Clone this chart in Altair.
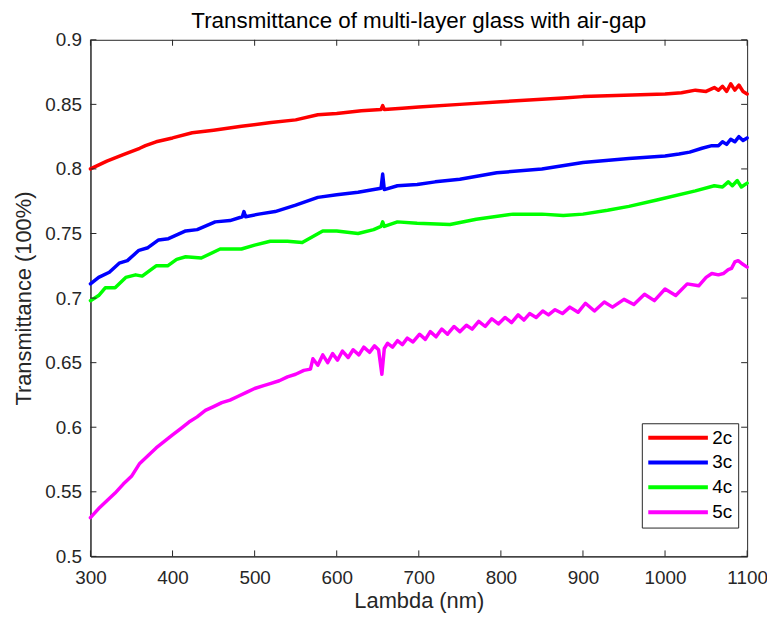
import altair as alt
import pandas as pd

# ---- data ----
series_names = ["2c", "3c", "4c", "5c"]
series_colors = ["#ff0000", "#0000ff", "#00ff00", "#ff00ff"]

wl_2c = [300, 320, 340, 360, 367, 380, 400, 424, 450, 484, 520, 550, 577, 600, 630, 654, 656, 658,
         680, 700, 750, 800, 850, 876, 900, 950, 1000, 1020, 1037, 1050, 1060, 1065, 1070, 1075,
         1080, 1085, 1090, 1095, 1100]
t_2c = [0.800, 0.806, 0.811, 0.816, 0.818, 0.821, 0.824, 0.828, 0.830, 0.833, 0.836, 0.838, 0.842,
        0.843, 0.845, 0.846, 0.849, 0.846, 0.847, 0.848, 0.850, 0.852, 0.854, 0.855, 0.856, 0.857,
        0.858, 0.859, 0.861, 0.860, 0.863, 0.861, 0.864, 0.860, 0.866, 0.861, 0.865, 0.860, 0.858]

wl_3c = [300, 310, 323, 335, 345, 359, 370, 383, 395, 416, 430, 452, 470, 485, 487, 489, 505, 525,
         550, 577, 600, 626, 654, 656, 658, 674, 698, 720, 750, 795, 850, 900, 956, 1000, 1017,
         1030, 1045, 1057, 1065, 1070, 1075, 1080, 1085, 1090, 1095, 1100]
t_3c = [0.711, 0.716, 0.720, 0.727, 0.729, 0.737, 0.739, 0.745, 0.746, 0.752, 0.753, 0.759, 0.760,
        0.763, 0.767, 0.763, 0.765, 0.767, 0.772, 0.778, 0.780, 0.782, 0.785, 0.796, 0.784, 0.787,
        0.788, 0.790, 0.792, 0.797, 0.800, 0.805, 0.808, 0.810, 0.8115, 0.813, 0.816, 0.818, 0.818,
        0.821, 0.819, 0.823, 0.821, 0.825, 0.822, 0.824]

wl_4c = [300, 310, 318, 330, 343, 355, 363, 380, 394, 405, 416, 435, 458, 484, 500, 519, 540, 558,
         583, 600, 626, 645, 654, 656, 658, 674, 698, 738, 770, 815, 850, 876, 900, 930, 956, 990,
         1037, 1060, 1070, 1077, 1082, 1088, 1093, 1100]
t_4c = [0.698, 0.702, 0.708, 0.708, 0.716, 0.718, 0.717, 0.725, 0.725, 0.730, 0.732, 0.731, 0.738,
        0.738, 0.741, 0.744, 0.744, 0.743, 0.752, 0.752, 0.750, 0.753, 0.7555, 0.759, 0.7555, 0.759,
        0.758, 0.757, 0.761, 0.765, 0.765, 0.764, 0.765, 0.768, 0.771, 0.776, 0.783, 0.787, 0.786,
        0.790, 0.787, 0.791, 0.786, 0.789]

wl_5c = [300, 310, 320, 330, 340, 350, 360, 370, 380, 390, 400, 410, 420, 430, 440, 450, 460, 470,
         480, 490, 500, 510, 520, 530, 540, 550, 560, 568, 571, 577, 583, 589, 595, 601, 607, 614,
         620, 627, 633, 640, 646, 651, 655, 658, 662, 668, 674, 680, 686, 693, 701, 708, 714, 721,
         728, 735, 743, 750, 758, 765, 773, 781, 789, 797, 805, 813, 821, 828, 835, 843, 851, 858,
         866, 875, 884, 894, 903, 914, 926, 936, 950, 962, 975, 987, 1000, 1013, 1027, 1041, 1050,
         1057, 1065, 1071, 1077, 1081, 1085, 1089, 1093, 1100]
t_5c = [0.530, 0.537, 0.543, 0.549, 0.556, 0.562, 0.572, 0.578, 0.584, 0.589, 0.594, 0.599, 0.604,
        0.608, 0.613, 0.616, 0.619, 0.621, 0.624, 0.627, 0.630, 0.632, 0.634, 0.636, 0.639, 0.641,
        0.644, 0.645, 0.653, 0.648, 0.656, 0.650, 0.657, 0.652, 0.659, 0.654, 0.660, 0.656, 0.662,
        0.658, 0.663, 0.660, 0.641, 0.661, 0.665, 0.662, 0.667, 0.664, 0.669, 0.666, 0.672, 0.668,
        0.674, 0.670, 0.676, 0.672, 0.678, 0.674, 0.679, 0.676, 0.682, 0.678, 0.684, 0.680, 0.685,
        0.681, 0.687, 0.683, 0.688, 0.685, 0.690, 0.687, 0.691, 0.688, 0.693, 0.689, 0.696, 0.690,
        0.697, 0.693, 0.699, 0.695, 0.703, 0.698, 0.707, 0.702, 0.711, 0.7095, 0.716, 0.719, 0.718,
        0.719, 0.722, 0.723, 0.728, 0.729, 0.727, 0.724]

x_ticks = [300, 400, 500, 600, 700, 800, 900, 1000, 1100]
y_ticks = [0.5, 0.55, 0.6, 0.65, 0.7, 0.75, 0.8, 0.85, 0.9]

title_text = "Transmittance of multi-layer glass with air-gap"
x_title = "Lambda (nm)"
y_title = "Transmittance (100%)"

# ---- build tables ----
rows = []
for name, wl, tv in [("2c", wl_2c, t_2c), ("3c", wl_3c, t_3c), ("4c", wl_4c, t_4c), ("5c", wl_5c, t_5c)]:
    for a, b in zip(wl, tv):
        rows.append({"lambda": a, "T": b, "series": name})
df = pd.DataFrame(rows)
xt = pd.DataFrame({"lambda": x_ticks})
yt = pd.DataFrame({"T": y_ticks})

W, H = 661, 520
FONT = "Liberation Sans"
AX = "#262626"

xscale = alt.Scale(domain=[300, 1100], nice=False, zero=False)
yscale = alt.Scale(domain=[0.5, 0.9], nice=False, zero=False)

common_axis = dict(ticks=False, tickSize=0, grid=False, labelFlush=False,
                   domainColor=AX, domainWidth=1, labelColor=AX, titleColor=AX,
                   labelFont=FONT, titleFont=FONT, labelFontSize=19, titleFontSize=22,
                   titleFontWeight="normal")
x_axis = alt.Axis(values=x_ticks, format="d", title=x_title, labelPadding=12, titlePadding=3,
                  **common_axis)
y_axis = alt.Axis(values=y_ticks, format=".2~f", title=y_title, labelPadding=9, titlePadding=9,
                  **common_axis)

lines = alt.Chart(df).mark_line(strokeWidth=3.5, strokeJoin="round", strokeCap="round").encode(
    x=alt.X("lambda:Q", scale=xscale, axis=x_axis, title=x_title),
    y=alt.Y("T:Q", scale=yscale, axis=y_axis, title=y_title),
    color=alt.Color("series:N",
                    scale=alt.Scale(domain=series_names, range=series_colors),
                    legend=alt.Legend(title=None, orient="none", legendX=555, legendY=386,
                                      symbolType="M-1.6,0H10.4", symbolSize=100, symbolStrokeWidth=4,
                                      labelOffset=47, labelFontSize=19, labelFont=FONT,
                                      labelColor="#000000", rowPadding=5, padding=5,
                                      columns=1, columnPadding=0,
                                      strokeColor=AX, fillColor="#ffffff")),
    order=alt.Order("lambda:Q"),
)

tick_len = 6
xt_bottom = alt.Chart(xt).mark_rule(color=AX, strokeWidth=1).encode(
    x=alt.X("lambda:Q", scale=xscale, axis=x_axis, title=x_title), y=alt.value(H), y2=alt.value(H - tick_len))
xt_top = alt.Chart(xt).mark_rule(color=AX, strokeWidth=1).encode(
    x=alt.X("lambda:Q", scale=xscale, axis=x_axis, title=x_title), y=alt.value(0), y2=alt.value(tick_len))
yt_left = alt.Chart(yt).mark_rule(color=AX, strokeWidth=1).encode(
    y=alt.Y("T:Q", scale=yscale, axis=y_axis, title=y_title), x=alt.value(0), x2=alt.value(tick_len))
yt_right = alt.Chart(yt).mark_rule(color=AX, strokeWidth=1).encode(
    y=alt.Y("T:Q", scale=yscale, axis=y_axis, title=y_title), x=alt.value(W), x2=alt.value(W - tick_len))

chart = alt.layer(lines, xt_bottom, xt_top, yt_left, yt_right).properties(
    width=W, height=H,
    title=alt.TitleParams(text=title_text, font=FONT, fontSize=22.5, fontWeight="normal",
                          color="#000000", anchor="middle", offset=2, dy=4),
    autosize=alt.AutoSizeParams(type="none"),
    padding={"left": 83, "top": 30, "right": 20, "bottom": 56},
    background="#ffffff",
).configure_view(stroke=AX, strokeWidth=1)

chart.save("out.html", embed_options={"renderer": "svg", "actions": False})
